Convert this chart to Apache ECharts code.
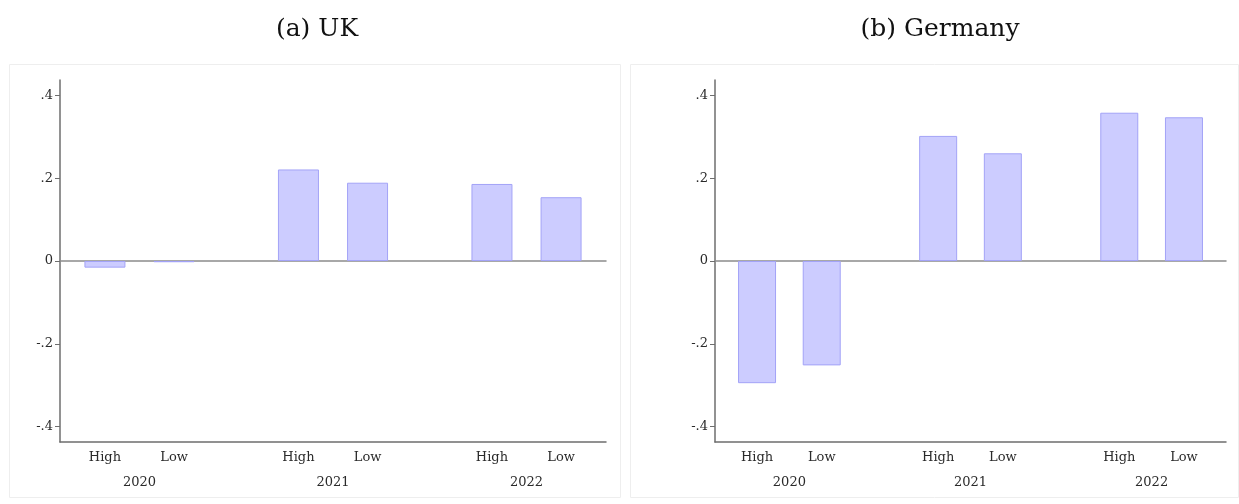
<!DOCTYPE html>
<html>
<head>
<meta charset="utf-8">
<script src="https://cdn.jsdelivr.net/npm/echarts@6/dist/echarts.min.js"></script>
<style>
html,body{margin:0;padding:0;background:#fff;}
#chart{width:1239px;height:504px;}
</style>
</head>
<body>
<div id="chart"></div>
<script>
// ---- data ----
const years = ['2020', '2021', '2022'];
const levels = ['High', 'Low'];
const ukHigh = [-0.016, 0.221, 0.186];
const ukLow = [-0.003, 0.189, 0.154];
const deHigh = [-0.295, 0.302, 0.358];
const deLow = [-0.252, 0.260, 0.347];
const yTicks = [-0.4, -0.2, 0, 0.2, 0.4];
const panelTitles = ['(a) UK', '(b) Germany'];

// ---- slot layout (category bands) ----
const LEAD = 6, WITHIN = 10, BETWEEN = 18;
const GROUP = WITHIN + BETWEEN;
const nSlots = LEAD + (years.length - 1) * GROUP + WITHIN + LEAD + 1;
const slots = Array.from({length: nSlots}, (_, i) => 's' + i);
const levelLabels = Array(nSlots).fill('');
const yearLabels = Array(nSlots).fill('');
years.forEach((y, g) => {
  levels.forEach((l, k) => { levelLabels[LEAD + g * GROUP + k * WITHIN] = l; });
  yearLabels[LEAD + g * GROUP + WITHIN / 2] = y;
});
function toSlots(high, low) {
  const arr = Array(nSlots).fill('-');
  years.forEach((y, g) => {
    arr[LEAD + g * GROUP] = high[g];
    arr[LEAD + g * GROUP + WITHIN] = low[g];
  });
  return arr;
}

const FONT = 'DejaVu Serif';
const txt = '#2a2a2a';
const axisCol = '#6e6e6e';

const grids = [
  {left: 60, right: 633, top: 80, bottom: 62},
  {left: 715, right: 13, top: 80, bottom: 62}
];
const barWidths = [41, 38];
const seriesData = [toSlots(ukHigh, ukLow), toSlots(deHigh, deLow)];

const xAxes = [], yAxes = [], series = [];
grids.forEach((g, gi) => {
  xAxes.push({
    type: 'category', gridIndex: gi, data: slots, position: 'bottom',
    axisLine: {onZero: false, lineStyle: {color: axisCol, width: 1.5}},
    axisTick: {show: false},
    axisLabel: {interval: 0, margin: 9, fontFamily: FONT, fontSize: 13, color: txt,
      formatter: (v, i) => levelLabels[i]}
  });
  xAxes.push({
    type: 'category', gridIndex: gi, data: slots, position: 'bottom',
    axisLine: {show: false, onZero: false},
    axisTick: {show: false},
    axisLabel: {interval: 0, margin: 34, fontFamily: FONT, fontSize: 13, color: txt,
      formatter: (v, i) => yearLabels[i]}
  });
  xAxes.push({
    type: 'category', gridIndex: gi, data: slots, position: 'bottom',
    axisLine: {show: true, onZero: true, lineStyle: {color: '#8c8c8c', width: 1.5}},
    axisTick: {show: false},
    axisLabel: {show: false}
  });
  yAxes.push({
    type: 'value', gridIndex: gi, min: -0.437, max: 0.437,
    axisLine: {show: true, lineStyle: {color: axisCol, width: 1.5}},
    axisTick: {show: true, length: 5, customValues: yTicks, lineStyle: {color: axisCol, width: 1}},
    axisLabel: {margin: 7, customValues: yTicks, fontFamily: FONT, fontSize: 13, color: txt,
      formatter: v => v === 0 ? '0' : (v < 0 ? '-' : '') + String(Math.abs(v)).replace(/^0/, '')},
    splitLine: {show: false}
  });
  series.push({
    type: 'bar', xAxisIndex: gi * 3, yAxisIndex: gi, data: seriesData[gi],
    barWidth: barWidths[gi], z: 5,
    itemStyle: {color: '#ccccff', borderColor: '#a3a3f7', borderWidth: 1}
  });
});

const chart = echarts.init(document.getElementById('chart'), null, {renderer: 'canvas'});
chart.setOption({
  animation: false,
  backgroundColor: '#ffffff',
  title: [
    {text: panelTitles[0], left: 312, top: 12, textAlign: 'center',
      textStyle: {fontFamily: FONT, fontSize: 25, fontWeight: 'normal', color: '#111'}},
    {text: panelTitles[1], left: 935, top: 12, textAlign: 'center',
      textStyle: {fontFamily: FONT, fontSize: 25, fontWeight: 'normal', color: '#111'}}
  ],
  graphic: [
    {type: 'rect', shape: {x: 9.5, y: 64.5, width: 611, height: 433}, silent: true, z: -10,
      style: {fill: 'none', stroke: '#eeeeee', lineWidth: 1}},
    {type: 'rect', shape: {x: 630.5, y: 64.5, width: 608, height: 433}, silent: true, z: -10,
      style: {fill: 'none', stroke: '#eeeeee', lineWidth: 1}}
  ],
  grid: grids,
  xAxis: xAxes,
  yAxis: yAxes,
  series: series
});
</script>
</body>
</html>
